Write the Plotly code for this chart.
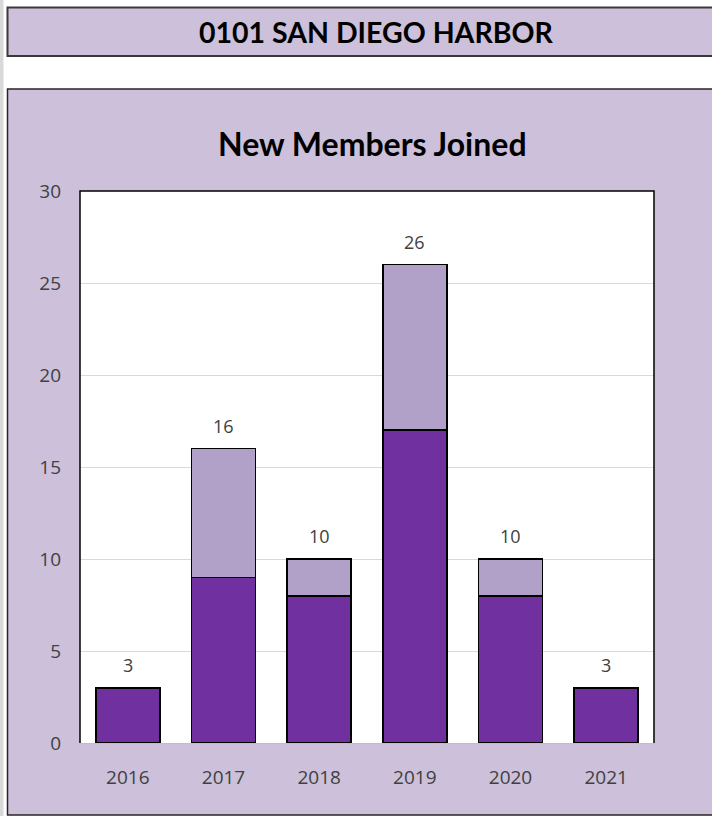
import plotly.graph_objects as go

years = ["2016", "2017", "2018", "2019", "2020", "2021"]
base_members = [3, 9, 8, 17, 8, 3]
extra_members = [0, 7, 2, 9, 2, 0]
totals = [3, 16, 10, 26, 10, 3]
y_ticks = [0, 5, 10, 15, 20, 25, 30]

W, H = 712, 816
L, R, T, B = 80, 654, 191, 743
pw, ph = R - L, B - T

def px(x):
    return (x - L) / pw

def py(y):
    return (B - y) / ph

DARK = "#7030A0"
LIGHT = "#B1A0C7"
LAV = "#CCC0DA"
TXT = "#404040"

fig = go.Figure()
fig.add_trace(go.Bar(x=years, y=base_members, marker=dict(color=DARK, line=dict(color="#000000", width=1.5)),
                     hoverinfo="skip"))
fig.add_trace(go.Bar(x=years, y=[v if v else None for v in extra_members],
                     marker=dict(color=LIGHT, line=dict(color="#000000", width=1.5)),
                     hoverinfo="skip"))

for i, t in enumerate(totals):
    fig.add_annotation(x=i, y=t, text=str(t), showarrow=False, yanchor="bottom", yshift=9,
                       font=dict(family="Open Sans", size=18, color=TXT))

shapes = [
    dict(type="rect", xref="paper", yref="paper", x0=px(-2), x1=px(3.5), y0=py(820), y1=py(-5),
         fillcolor="#D9D9D9", line=dict(width=0), layer="below"),
    dict(type="rect", xref="paper", yref="paper", x0=px(7.5), x1=px(720), y0=py(56), y1=py(7.5),
         fillcolor=LAV, line=dict(color="#3A3A3A", width=2), layer="below"),
    dict(type="rect", xref="paper", yref="paper", x0=px(7.5), x1=px(720), y0=py(815), y1=py(89),
         fillcolor=LAV, line=dict(color="#262626", width=1.5), layer="below"),
    dict(type="rect", xref="paper", yref="paper", x0=0, x1=1, y0=0, y1=1,
         fillcolor="#FFFFFF", line=dict(width=0), layer="below"),
    dict(type="path", xref="paper", yref="paper",
         path="M 0 0 L 0 1 L 1 1 L 1 0", line=dict(color="#000000", width=1.5)),
]

fig.add_annotation(xref="paper", yref="paper", x=px(376), y=py(32), text="<b>0101 SAN DIEGO HARBOR</b>",
                   showarrow=False, xanchor="center", yanchor="middle",
                   font=dict(family="Lato", size=28.5, color="#000000"))
fig.add_annotation(xref="paper", yref="paper", x=px(372), y=py(143), text="<b>New Members Joined</b>",
                   showarrow=False, xanchor="center", yanchor="middle",
                   font=dict(family="Lato", size=32, color="#000000"))

fig.update_layout(
    width=W, height=H,
    margin=dict(l=L, r=W - R, t=T, b=H - B),
    paper_bgcolor="#FFFFFF", plot_bgcolor="#FFFFFF",
    barmode="stack", bargap=0.33, showlegend=False,
    shapes=shapes,
    xaxis=dict(type="category", range=[-0.5, len(years) - 0.5], showgrid=False, showline=True,
               linecolor="#BFBFBF", linewidth=1, ticks="",
               tickfont=dict(family="Open Sans", size=19, color=TXT), ticklabelstandoff=17,
               fixedrange=True),
    yaxis=dict(range=[0, 30], tickvals=y_ticks, showgrid=True, gridcolor="#D9D9D9", gridwidth=1,
               zeroline=False, showline=False, ticks="",
               tickfont=dict(family="Open Sans", size=19, color=TXT), ticklabelstandoff=18,
               fixedrange=True),
)

fig.write_html("out.html", config={"displayModeBar": False},
               post_script="document.body.style.margin='0';")
